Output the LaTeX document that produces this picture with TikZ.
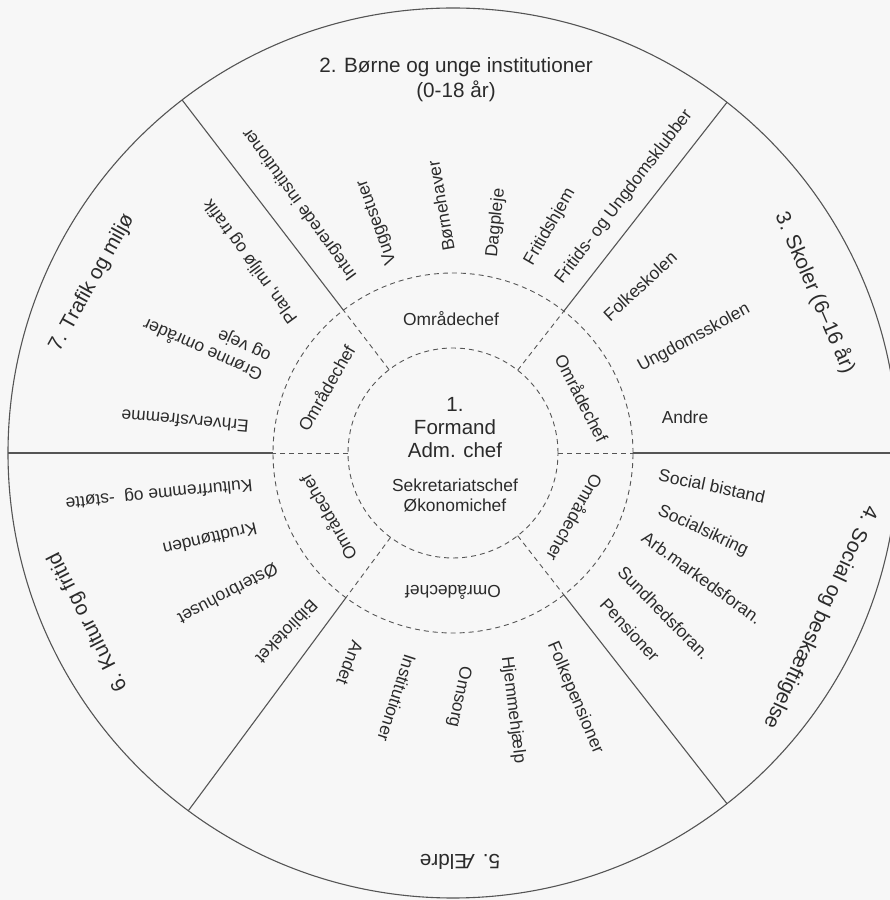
\documentclass[tikz,border=0pt]{standalone}
\usepackage{fontspec}
\setmainfont{Liberation Sans}
\usetikzlibrary{calc}
\definecolor{ink}{HTML}{2B2B2B}
\definecolor{rulec}{HTML}{555555}
\begin{document}
\begin{tikzpicture}[x=1pt,y=1pt,
  lbl/.style={text=ink, font=\fontsize{17.4}{20}\selectfont, inner sep=0pt},
  head/.style={text=ink, font=\fontsize{20.7}{25}\selectfont, inner sep=0pt, align=center},
  solidline/.style={draw=rulec, line width=1.1pt},
  dashline/.style={draw=rulec, line width=0.9pt, dash pattern=on 5pt off 4pt}]
\useasboundingbox (0,0) rectangle (890,900);
\fill[white!97!black] (0,0) rectangle (890,900);
\coordinate (C) at (453,447);
\draw[solidline] (C) circle[radius=445];
\draw[dashline] (C) circle[radius=180];
\draw[dashline] (C) circle[radius=105];
\foreach \a/\n in {0/e,52/ne,127.5/nw,180/w,233.5/sw,308/se}{
  \coordinate (in\n) at ($(C)+(\a:105)$);
  \coordinate (mid\n) at ($(C)+(\a:180)$);
  \coordinate (out\n) at ($(C)+(\a:445)$);
  \draw[dashline] (in\n) -- (mid\n);
  \draw[solidline] (mid\n) -- (out\n);
}
% centre
\node[head, font=\fontsize{20.5}{23}\selectfont] (formand) at (455,472) {1.\\Formand\\Adm. chef};
\node[lbl, align=center] (sek) at (455,405) {Sekretariatschef\\Økonomichef};
% ring
\node[lbl] (oc2) at (451,581) {Områdechef};
\node[lbl, rotate=-63] (oc3) at (582,502) {Områdechef};
\node[lbl, rotate=-119] (oc4) at (575,382) {Områdecher};
\node[lbl, rotate=180] (oc5) at (453,308) {Områdechef};
\node[lbl, rotate=120] (oc6) at (328,382) {Områdechef};
\node[lbl, rotate=60] (oc7) at (326,512) {Områdechef};
% 2 top
\node[head] (h2) at (456,820) {2. Børne og unge institutioner\\(0-18 år)};
\node[lbl, rotate=126] (integ) at (300,696) {Integrerede institutioner};
\node[lbl, rotate=110] (vugge) at (377,678) {Vuggestuer};
\node[lbl, rotate=100] (boern) at (441,694) {Børnehaver};
\node[lbl, rotate=84] (dag) at (496,677) {Dagpleje};
\node[lbl, rotate=60] (frit) at (550,673) {Fritidshjem};
\node[lbl, rotate=52.5] (klub) at (624,703) {Fritids- og Ungdomsklubber};
% 3 upper right
\node[head, rotate=-66.7] (h3) at (815,607) {3. Skoler (6–16 år)};
\node[lbl, rotate=43] (folk) at (640,614) {Folkeskolen};
\node[lbl, rotate=28.6] (ungd) at (694,562) {Ungdomsskolen};
\node[lbl] (andre) at (685,483) {Andre};
% 4 lower right
\node[head, rotate=-115] (h4) at (820,283) {4. Social og beskæftigelse};
\node[lbl, rotate=-12] (socb) at (712,414) {Social bistand};
\node[lbl, rotate=-25.5] (socs) at (703,369) {Socialsikring};
\node[lbl, rotate=-36] (arb) at (702,322) {Arb.markedsforan.};
\node[lbl, rotate=-45.6] (sund) at (664,287) {Sundhedsforan.};
\node[lbl, rotate=-47.5] (pens) at (630,270) {Pensioner};
% 5 bottom
\node[head, rotate=180] (h5) at (460,38) {5. Ældre};
\node[lbl, rotate=249] (andet) at (350,237) {Andet};
\node[lbl, rotate=252] (inst) at (397,202) {Institutioner};
\node[lbl, rotate=258.5] (omsorg) at (459,203) {Omsorg};
\node[lbl, rotate=277] (hjem) at (513,190) {Hjemmehjælp};
\node[lbl, rotate=293] (folkp) at (575,202) {Folkepensioner};
% 6 lower left
\node[head, rotate=117] (h6) at (88,278) {6. Kultur og fritid};
\node[lbl, rotate=185.8] (kult) at (159,407) {Kulturfremme og\ \ -støtte};
\node[lbl, rotate=193] (krudt) at (210,361) {Krudttønden};
\node[lbl, rotate=208] (oster) at (228,306) {Østerbrohuset};
\node[lbl, rotate=226] (bib) at (287,268) {Biblioteket};
% 7 upper left
\node[head, rotate=61] (h7) at (92,617) {7. Trafik og miljø};
\node[lbl, rotate=126] (plan) at (251,639) {Plan, miljø og trafik};
\node[lbl, rotate=156, align=left] (groen) at (207,560) {Grønne områder\\og veje};
\node[lbl, rotate=175] (erhv) at (185,479) {Erhvervsfremme};
\end{tikzpicture}
\end{document}
